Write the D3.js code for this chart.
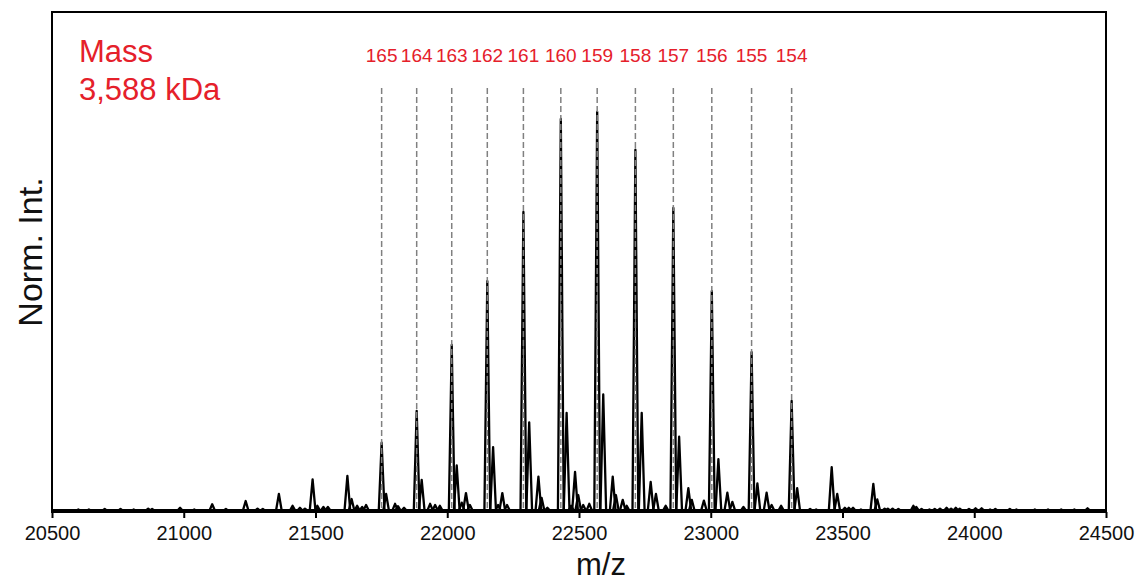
<!DOCTYPE html>
<html>
<head>
<meta charset="utf-8">
<script src="https://cdn.jsdelivr.net/npm/d3@7"></script>
<style>
  body { margin: 0; background: #fff; }
  text { font-family: Arial, "Liberation Sans", sans-serif; }
</style>
</head>
<body>
<div id="svg-container"></div>
<script>
//////////////  Data  //////////////
// charge states and the m/z of their main peaks
const charges = [165, 164, 163, 162, 161, 160, 159, 158, 157, 156, 155, 154];
const chargeMz = [21751, 21884, 22017, 22152, 22289, 22431, 22569, 22714, 22858, 23004, 23155, 23307];
const chargeInt = [0.171, 0.251, 0.416, 0.576, 0.749, 0.982, 1.0, 0.905, 0.759, 0.551, 0.398, 0.276];

// all other peaks: [m/z, normalised intensity]
const sidePeaks = [
  [20600, 0.004], [20640, 0.004], [20700, 0.005], [20760, 0.005], [20810, 0.004],
  [20865, 0.006], [20880, 0.005], [20986, 0.008], [21040, 0.004], [21108, 0.017],
  [21160, 0.005], [21235, 0.025], [21280, 0.006], [21300, 0.005],
  [21361, 0.043], [21413, 0.013], [21441, 0.008], [21460, 0.006],
  [21489, 0.079], [21507, 0.013], [21530, 0.010], [21547, 0.010],
  [21621, 0.088], [21637, 0.030], [21658, 0.013], [21677, 0.010], [21692, 0.015],
  [21768, 0.043], [21802, 0.018], [21813, 0.012], [21836, 0.008],
  [21903, 0.078], [21935, 0.018], [21954, 0.015], [21972, 0.013],
  [22036, 0.114], [22055, 0.021], [22071, 0.045], [22086, 0.015],
  [22174, 0.160], [22193, 0.015], [22209, 0.045], [22227, 0.015],
  [22311, 0.222], [22346, 0.086], [22358, 0.033], [22380, 0.008],
  [22453, 0.246], [22470, 0.013], [22485, 0.098], [22497, 0.040], [22516, 0.015], [22539, 0.018],
  [22592, 0.292], [22628, 0.086], [22640, 0.040], [22666, 0.028], [22681, 0.013],
  [22738, 0.246], [22772, 0.073], [22792, 0.043], [22829, 0.013],
  [22880, 0.186], [22915, 0.057], [22928, 0.028], [22974, 0.026],
  [23029, 0.130], [23063, 0.046], [23082, 0.023], [23124, 0.010],
  [23177, 0.069], [23212, 0.046], [23231, 0.015], [23267, 0.013],
  [23328, 0.057], [23377, 0.005], [23400, 0.004],
  [23459, 0.110], [23480, 0.043], [23509, 0.008], [23524, 0.008], [23540, 0.008], [23570, 0.004],
  [23617, 0.068], [23632, 0.029], [23660, 0.006], [23672, 0.006], [23690, 0.006], [23712, 0.005],
  [23769, 0.013], [23780, 0.010], [23800, 0.005], [23830, 0.004], [23850, 0.005],
  [23870, 0.006], [23895, 0.008], [23912, 0.006], [23930, 0.008], [23945, 0.006],
  [23980, 0.005], [24005, 0.007], [24028, 0.007], [24060, 0.004], [24080, 0.005],
  [24135, 0.005], [24160, 0.004], [24230, 0.004], [24280, 0.004], [24330, 0.004],
  [24380, 0.004], [24430, 0.007]
];

const xTicks = [20500, 21000, 21500, 22000, 22500, 23000, 23500, 24000, 24500];
const massLines = ["Mass", "3,588 kDa"];

//////////////  Init  //////////////
const width = 1138;
const height = 584;
const margin = { top: 12, right: 32, bottom: 72, left: 52 };
const red = "#e5202a";

const svg = d3.select("#svg-container").append("svg")
  .attr("width", width)
  .attr("height", height);

// scale
const xScale = d3.scaleLinear()
  .domain([20500, 24500])
  .range([margin.left, width - margin.right]);
const yScale = d3.scaleLinear()
  .domain([0, 1.25])
  .range([height - margin.bottom - 1, margin.top]);

// axis
const xAxis = d3.axisBottom(xScale)
  .tickValues(xTicks)
  .tickFormat(d3.format("d"))
  .tickSize(6)
  .tickSizeOuter(0);

const gx = svg.append("g")
  .attr("transform", `translate(0,${height - margin.bottom})`)
  .call(xAxis);
gx.select(".domain").remove();
gx.selectAll(".tick line").attr("stroke", "#000").attr("stroke-width", 2);
gx.selectAll(".tick text")
  .attr("font-size", 20)
  .attr("fill", "#111")
  .attr("y", 14);

// spectrum: baseline + one spike per peak
const halfW = 11;
const spike = d3.line()
  .x((d) => xScale(d[0]))
  .y((d) => yScale(d[1]));

const allPeaks = chargeMz.map((m, i) => [m, chargeInt[i]]).concat(sidePeaks);

const spec = svg.append("g")
  .attr("fill", "none")
  .attr("stroke", "#000")
  .attr("stroke-width", 2.3)
  .attr("stroke-linejoin", "round");

spec.append("path")
  .attr("d", spike([[20500, 0.002], [24500, 0.002]]));

spec.selectAll(".peak")
  .data(allPeaks)
  .join("path")
  .attr("class", "peak")
  .attr("d", (d) => spike([[d[0] - halfW, 0], [d[0], d[1]], [d[0] + halfW, 0]]));

// dashed markers for the charge states
svg.append("g")
  .selectAll("line")
  .data(chargeMz)
  .join("line")
  .attr("x1", (d) => xScale(d))
  .attr("x2", (d) => xScale(d))
  .attr("y1", 88)
  .attr("y2", yScale(0))
  .attr("stroke", "#808080")
  .attr("stroke-width", 1.5)
  .attr("stroke-dasharray", "6,3");

svg.append("g")
  .selectAll("text")
  .data(charges)
  .join("text")
  .attr("x", (d, i) => xScale(chargeMz[i]))
  .attr("y", 62)
  .attr("text-anchor", "middle")
  .attr("font-size", 19)
  .attr("fill", red)
  .text((d) => d);

// mass annotation
svg.append("g")
  .selectAll("text")
  .data(massLines)
  .join("text")
  .attr("x", 79)
  .attr("y", (d, i) => 62 + i * 38)
  .attr("font-size", 31)
  .attr("fill", red)
  .text((d) => d);

// frame
svg.append("rect")
  .attr("x", margin.left)
  .attr("y", margin.top)
  .attr("width", width - margin.left - margin.right)
  .attr("height", height - margin.top - margin.bottom)
  .attr("fill", "none")
  .attr("stroke", "#000")
  .attr("stroke-width", 2);

// axis titles
svg.append("text")
  .attr("x", 601)
  .attr("y", 575)
  .attr("text-anchor", "middle")
  .attr("font-size", 31)
  .attr("fill", "#111")
  .text("m/z");

svg.append("text")
  .attr("transform", "translate(42,252) rotate(-90)")
  .attr("text-anchor", "middle")
  .attr("font-size", 34)
  .attr("fill", "#111")
  .text("Norm. Int.");
</script>
</body>
</html>
